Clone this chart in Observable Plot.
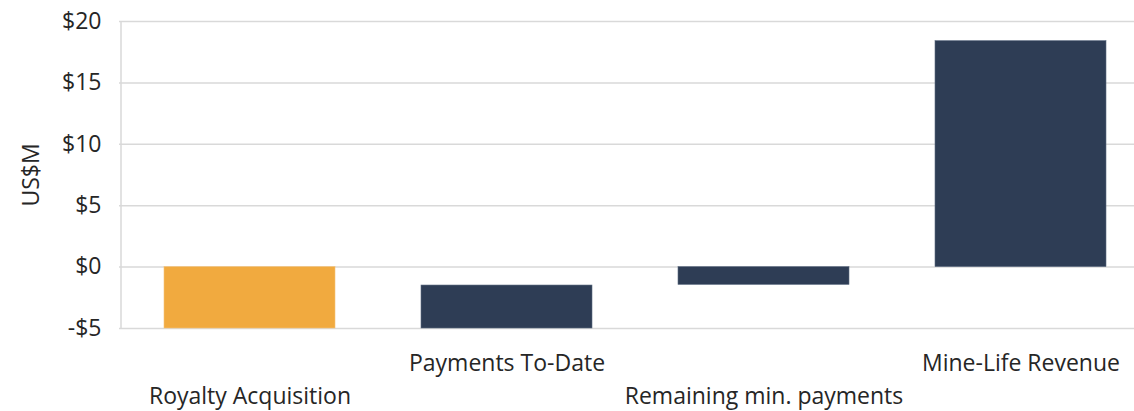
<!DOCTYPE html>
<html>
<head>
<meta charset="utf-8">
<script src="https://cdn.jsdelivr.net/npm/d3@7"></script>
<script src="https://cdn.jsdelivr.net/npm/@observablehq/plot@0.6"></script>
<style>
  html, body { margin: 0; padding: 0; background: #fff; overflow: hidden; }
  #chart svg { overflow: hidden; }
</style>
</head>
<body>
<div id="chart"></div>
<script>
const categories = ["Royalty Acquisition", "Payments To-Date", "Remaining min. payments", "Mine-Life Revenue"];
const startValues = [0, -5, -1.45, 0];
const endValues = [-5, -1.5, 0, 18.4];
const kinds = ["acquisition", "flow", "flow", "flow"];
const yTicks = [-5, 0, 5, 10, 15, 20];

const data = categories.map((c, i) => ({category: c, y1: startValues[i], y2: endValues[i], kind: kinds[i], i}));

const font = "'Open Sans', Lato, sans-serif";
const textColor = "#262626";

const chart = Plot.plot({
  width: 1134,
  height: 411,
  marginTop: 21,
  marginBottom: 83,
  marginLeft: 119,
  marginRight: 0,
  style: {fontFamily: font, fontSize: "23px", color: textColor, background: "#fff"},
  x: {domain: categories, range: [119, 1151], paddingInner: 0.333, paddingOuter: 0.1667, axis: null},
  y: {domain: [-5, 20], range: [328, 21]},
  color: {domain: ["acquisition", "flow"], range: ["#F1AA3F", "#2E3D55"]},
  marks: [
    Plot.ruleY(yTicks, {stroke: "#d9d9d9", strokeWidth: 1.5}),
    Plot.ruleX([0], {x: () => categories[0], dx: -129, y1: -5, y2: 20, stroke: "#d9d9d9", strokeWidth: 1.5}),
    Plot.barY(data, {x: "category", y1: "y1", y2: "y2", fill: "kind", stroke: d => d.kind === "flow" ? "#5d6b80" : "#f4c27a", strokeWidth: 0.6}),
    Plot.axisY(yTicks, {tickSize: 0, tickPadding: 18, tickFormat: d => (d < 0 ? "-$" : "$") + Math.abs(d), label: null, fontSize: 23, fill: textColor}),
    Plot.text(["US$M"], {text: d => d, frameAnchor: "left", textAnchor: "middle", rotate: -90, dx: -88, fontSize: 23, fill: textColor}),
    Plot.text(data.filter(d => d.i % 2 === 1), {x: "category", text: "category", frameAnchor: "bottom", dy: 35, lineAnchor: "middle", fontSize: 23, fill: textColor}),
    Plot.text(data.filter(d => d.i % 2 === 0), {x: "category", text: "category", frameAnchor: "bottom", dy: 68, lineAnchor: "middle", fontSize: 23, fill: textColor})
  ]
});
document.getElementById("chart").append(chart);
</script>
</body>
</html>
